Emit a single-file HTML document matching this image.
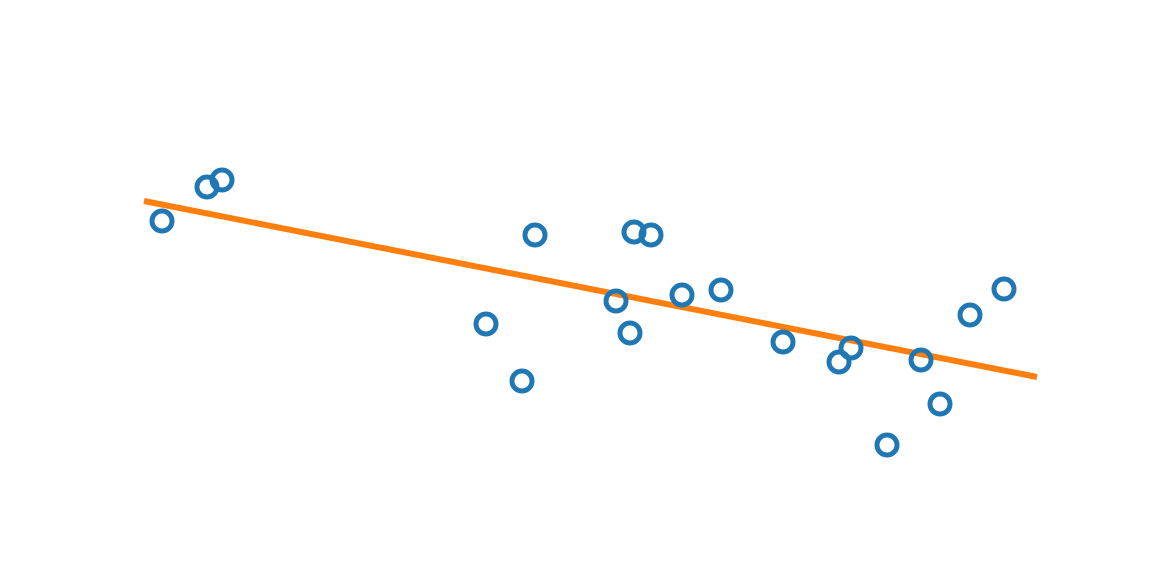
<!DOCTYPE html>
<html><head><style>html,body{margin:0;padding:0;background:#fff;}</style></head>
<body>
<svg width="1152" height="576" xmlns="http://www.w3.org/2000/svg">
<line x1="144" y1="201" x2="1037" y2="377" stroke="#ff7f0e" stroke-width="6"/>
<g fill="none" stroke="#1f77b4" stroke-width="5">
<circle cx="162" cy="221" r="10"/>
<circle cx="207" cy="187" r="10"/>
<circle cx="222" cy="180" r="10"/>
<circle cx="486" cy="324" r="10"/>
<circle cx="522" cy="381" r="10"/>
<circle cx="535" cy="235" r="10"/>
<circle cx="616" cy="301" r="10"/>
<circle cx="630" cy="333" r="10"/>
<circle cx="634" cy="232" r="10"/>
<circle cx="651" cy="235" r="10"/>
<circle cx="682" cy="295" r="10"/>
<circle cx="721" cy="290" r="10"/>
<circle cx="783" cy="342" r="10"/>
<circle cx="839" cy="362" r="10"/>
<circle cx="851" cy="348" r="10"/>
<circle cx="887" cy="445" r="10"/>
<circle cx="921" cy="360" r="10"/>
<circle cx="940" cy="404" r="10"/>
<circle cx="970" cy="315" r="10"/>
<circle cx="1004" cy="289" r="10"/>
</g>
</svg>
</body></html>
